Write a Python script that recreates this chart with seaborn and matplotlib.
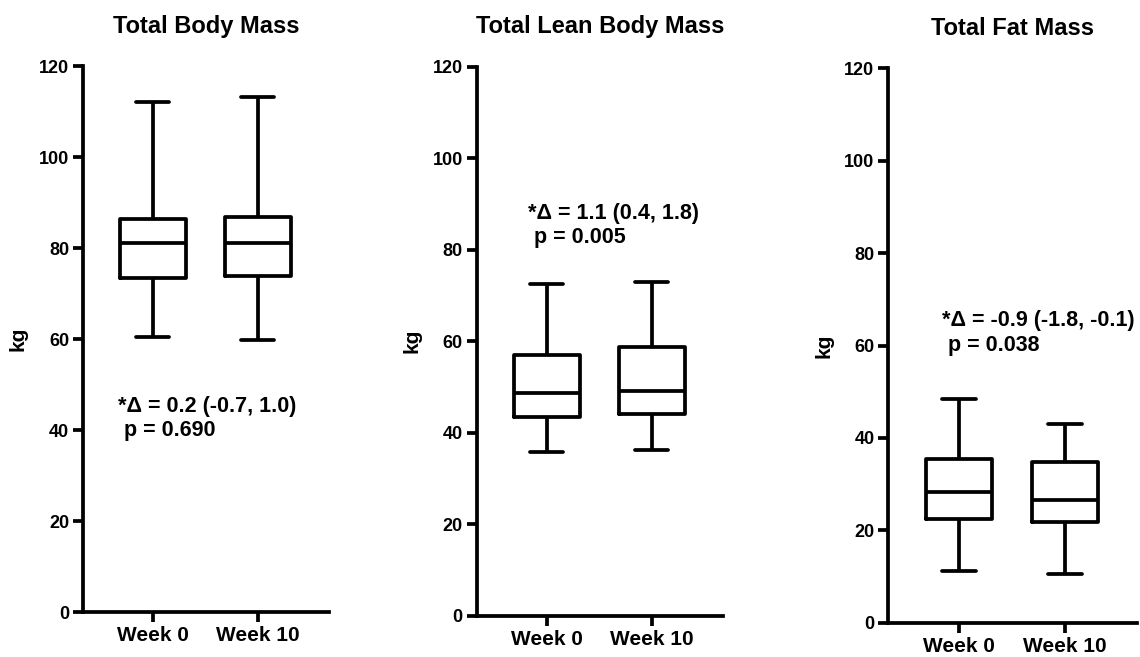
import matplotlib
matplotlib.use("Agg")
import matplotlib.pyplot as plt
import seaborn as sns
import pandas as pd

# ---- data (five-number summaries) ----
weeks = ["Week 0", "Week 10"]
titles = ["Total Body Mass", "Total Lean Body Mass", "Total Fat Mass"]

body_min = [60.4, 59.9]
body_q1 = [73.5, 73.9]
body_med = [81.1, 81.1]
body_q3 = [86.3, 86.8]
body_max = [112.0, 113.2]

lean_min = [35.8, 36.2]
lean_q1 = [43.5, 44.0]
lean_med = [48.6, 49.1]
lean_q3 = [57.0, 58.8]
lean_max = [72.4, 72.9]

fat_min = [11.3, 10.5]
fat_q1 = [22.4, 21.9]
fat_med = [28.2, 26.6]
fat_q3 = [35.4, 34.7]
fat_max = [48.4, 43.0]

annotations = [
    "*\u0394 = 0.2 (-0.7, 1.0)\n p = 0.690",
    "*\u0394 = 1.1 (0.4, 1.8)\n p = 0.005",
    "*\u0394 = -0.9 (-1.8, -0.1)\n p = 0.038",
]
annot_xy = [(-0.33, 42.6), (-0.175, 85.2), (-0.163, 62.7)]

yticks = [0, 20, 40, 60, 80, 100, 120]

summaries = [
    (body_min, body_q1, body_med, body_q3, body_max),
    (lean_min, lean_q1, lean_med, lean_q3, lean_max),
    (fat_min, fat_q1, fat_med, fat_q3, fat_max),
]

# ---- style ----
sns.set_style("ticks")
plt.rcParams["font.family"] = ["Liberation Sans", "DejaVu Sans"]
plt.rcParams["font.weight"] = "bold"
for key in ["text.color", "axes.labelcolor", "xtick.color", "ytick.color",
            "axes.edgecolor"]:
    plt.rcParams[key] = "black"

LW = 2.7

fig = plt.figure(figsize=(11.4, 6.57), dpi=100)

positions = [
    [0.0728, 0.068, 0.2158, 0.8315],
    [0.4182, 0.0629, 0.2163, 0.8356],
    [0.7792, 0.0522, 0.2182, 0.8438],
]

for i, (summ, title, pos) in enumerate(zip(summaries, titles, positions)):
    rows = []
    for w_idx, wk in enumerate(weeks):
        for arr in summ:
            rows.append({"week": wk, "value": arr[w_idx]})
    df = pd.DataFrame(rows)

    ax = fig.add_axes(pos)
    sns.boxplot(
        data=df, x="week", y="value", order=weeks, ax=ax,
        whis=(0, 100), fill=False, color="black", linecolor="black",
        linewidth=LW, width=0.63, showfliers=False,
    )
    ax.set_xlim(-0.667, 1.68)
    ax.set_ylim(0, 120)
    ax.set_yticks(yticks)
    ax.set_yticklabels([str(t) for t in yticks])
    ax.set_xlabel("")
    ax.set_ylabel("kg", fontsize=15, fontweight="bold", labelpad=8,
                  color="black")
    ax.set_title(title, fontsize=17, fontweight="bold", pad=24,
                 color="black")

    for side in ["top", "right"]:
        ax.spines[side].set_visible(False)
    for side in ["left", "bottom"]:
        ax.spines[side].set_linewidth(LW)
        ax.spines[side].set_color("black")

    ax.tick_params(axis="both", which="major", length=7, width=LW,
                   color="black", labelcolor="black", direction="out", pad=3)
    ax.tick_params(axis="y", labelsize=13)
    ax.tick_params(axis="x", labelsize=15)
    for lab in ax.get_xticklabels() + ax.get_yticklabels():
        lab.set_fontweight("bold")

    tx, ty = annot_xy[i]
    ax.text(tx, ty, annotations[i], fontsize=15.5, fontweight="bold",
            ha="left", va="center", linespacing=1.2, color="black")

fig.savefig("out.png", dpi=100, facecolor="white")
